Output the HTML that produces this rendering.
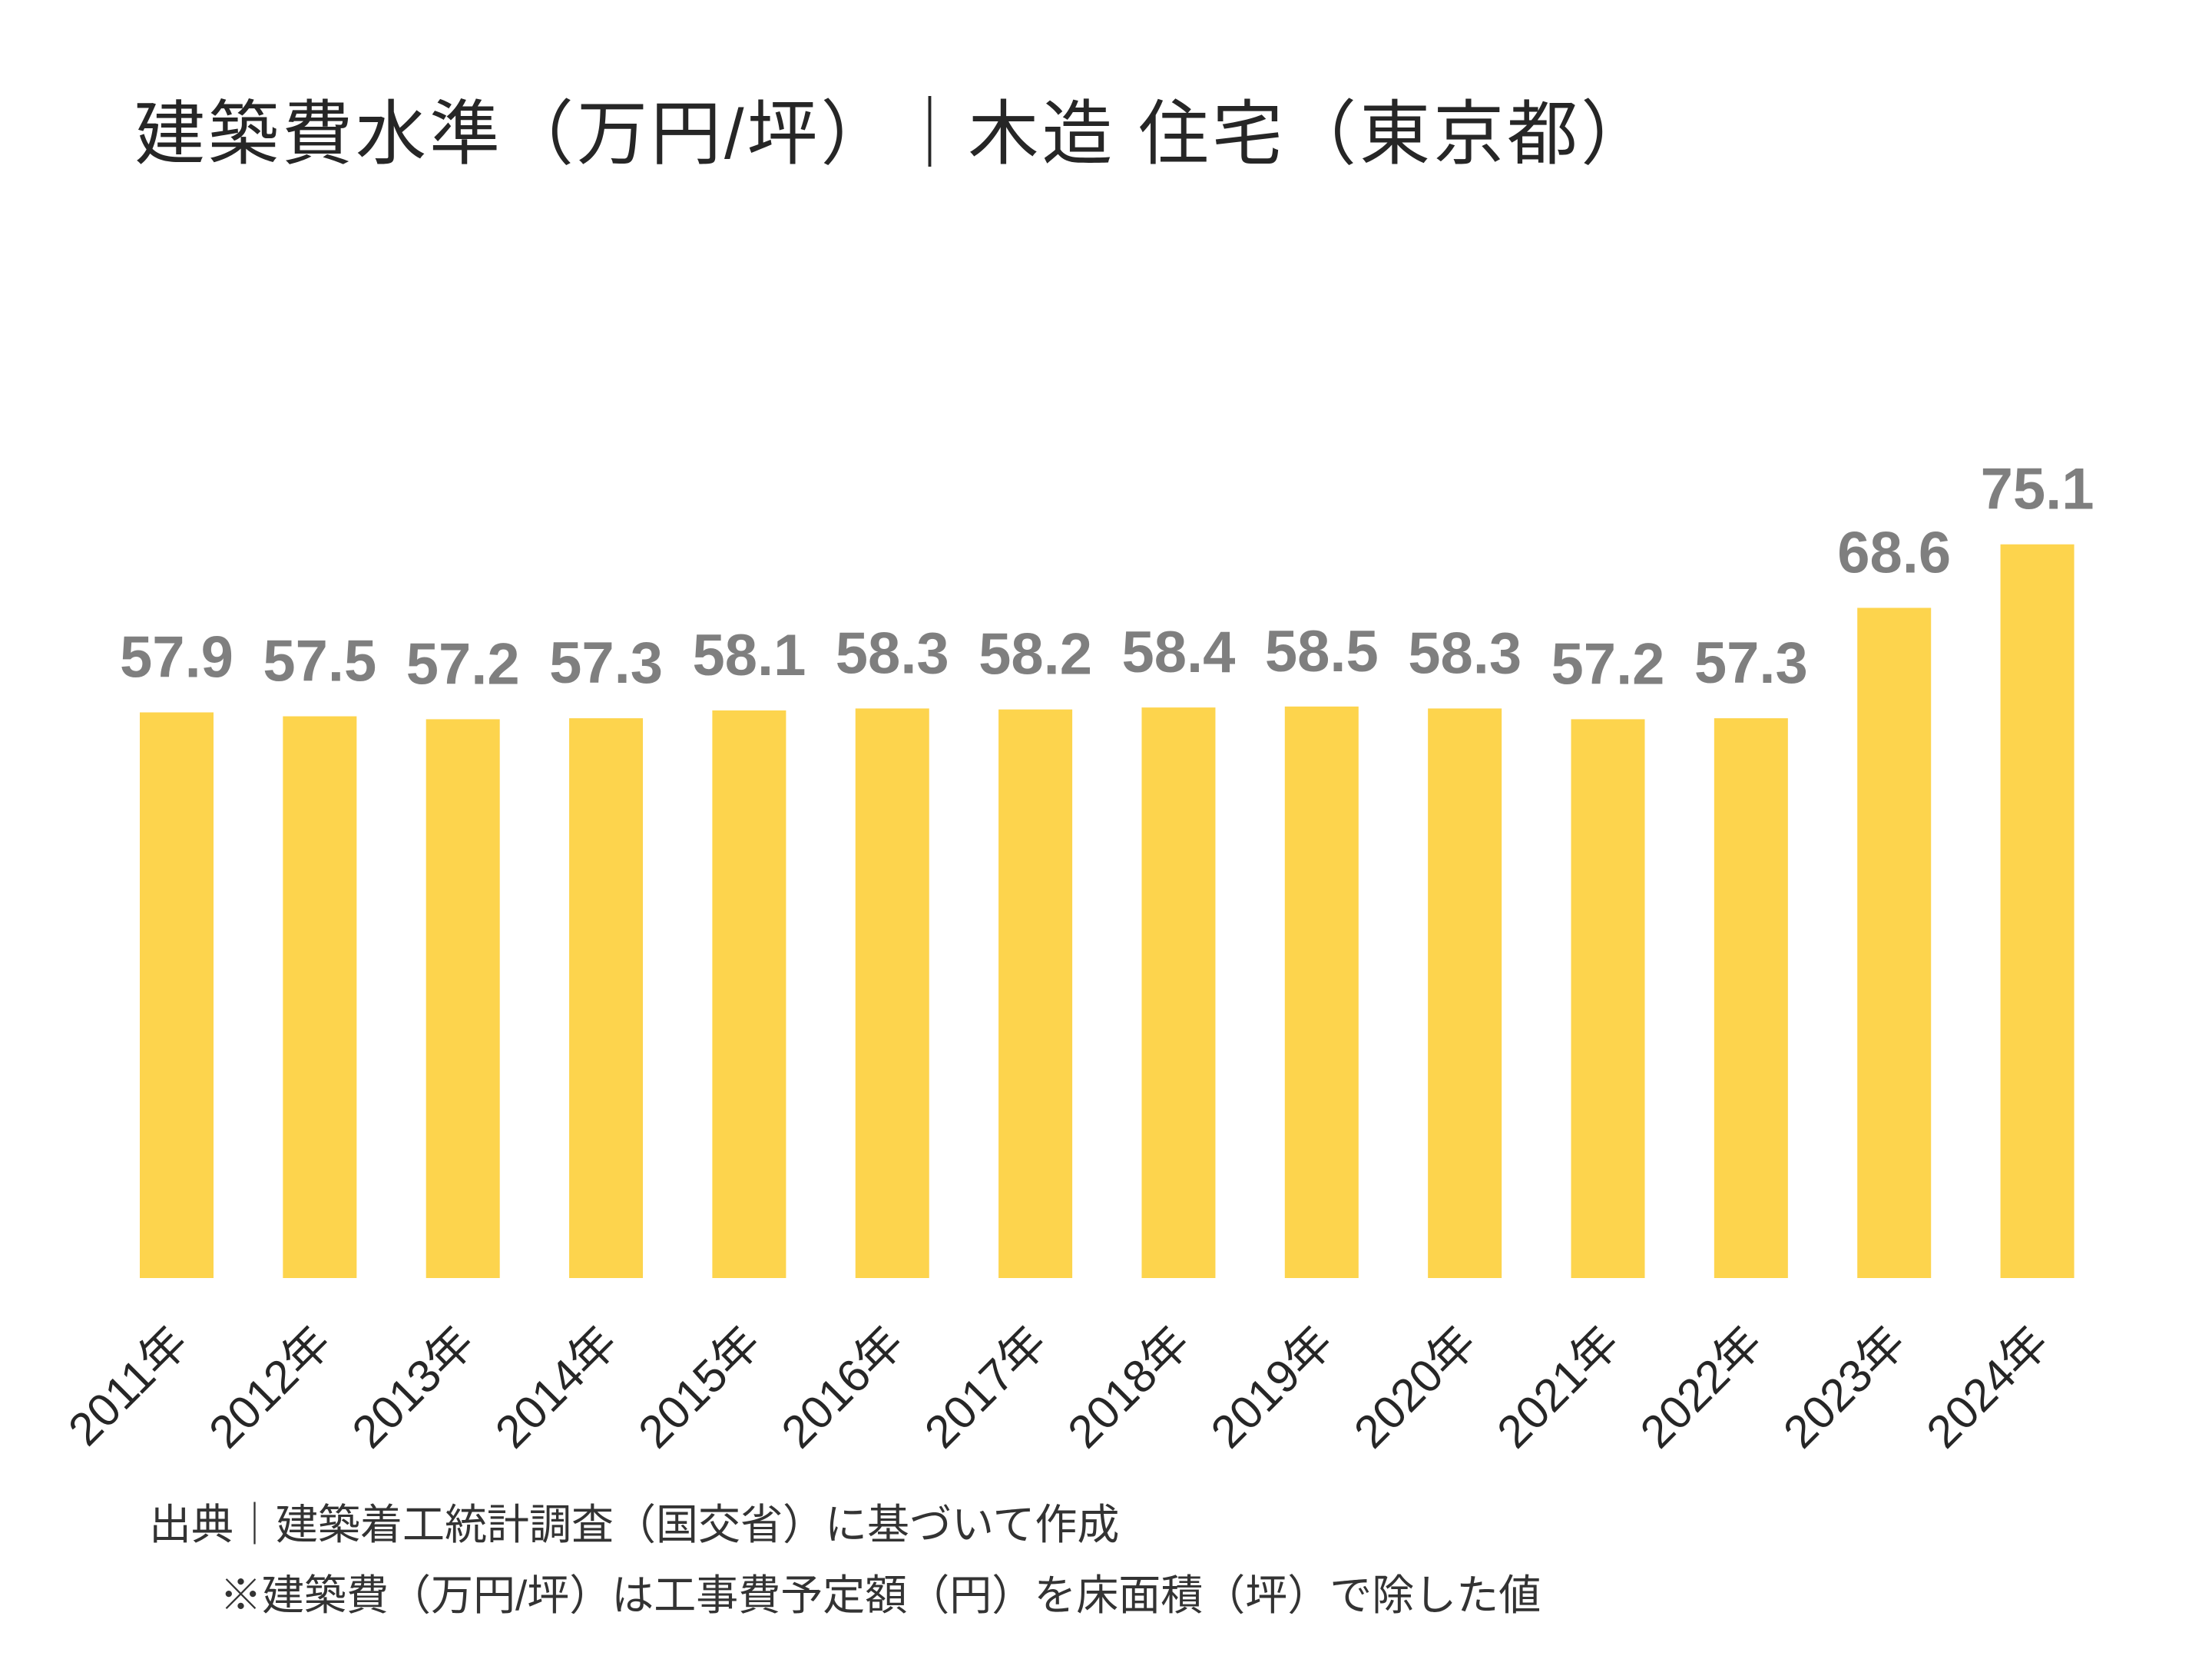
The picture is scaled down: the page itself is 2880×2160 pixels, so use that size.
<!DOCTYPE html>
<html><head><meta charset="utf-8"><style>
html,body{margin:0;padding:0;background:#fff}
body{width:2880px;height:2160px;position:relative;overflow:hidden;font-family:"Liberation Sans","Noto Sans CJK JP",sans-serif}
.t{position:absolute;white-space:nowrap}
</style></head><body>
<div class="t" style="left:175px;top:100px;font-size:92px;color:#262626;letter-spacing:4px">建築費水準（万円/坪）｜木造 住宅（東京都）</div>
<svg id="chart" width="2880" height="2160" style="position:absolute;left:0;top:0"></svg>
<div class="t" style="left:194px;top:1940px;font-size:55px;color:#333">出典｜建築着工統計調査（国交省）に基づいて作成</div>
<div class="t" style="left:286px;top:2032px;font-size:55px;color:#333">※建築費（万円/坪）は工事費予定額（円）を床面積（坪）で除した値</div>
<script>
const categories=["2011年","2012年","2013年","2014年","2015年","2016年","2017年","2018年","2019年","2020年","2021年","2022年","2023年","2024年"];
const values=[57.9,57.5,57.2,57.3,58.1,58.3,58.2,58.4,58.5,58.3,57.2,57.3,68.6,75.1];
const valueLabels=["57.9","57.5","57.2","57.3","58.1","58.3","58.2","58.4","58.5","58.3","57.2","57.3","68.6","75.1"];
const NS="http://www.w3.org/2000/svg";
const svg=document.getElementById('chart');
const x0=230,pitch=186.35,bw=96,base=1664,ppu=12.72;
function xs(i){return x0+i*pitch;}
function ys(v){return base-v*ppu;}
categories.forEach((c,i)=>{
  const r=document.createElementNS(NS,'rect');
  
  
  r.setAttribute('x',xs(i)-bw/2);r.setAttribute('y',ys(values[i]));
  r.setAttribute('width',bw);r.setAttribute('height',base-ys(values[i]));
  r.setAttribute('fill','#fdd44d');svg.appendChild(r);
  const t=document.createElementNS(NS,'text');
  
  
  t.setAttribute('x',xs(i));t.setAttribute('y',ys(values[i])-46);
  t.setAttribute('text-anchor','middle');t.setAttribute('font-size','76');
  t.setAttribute('font-weight','bold');t.setAttribute('fill','#7f7f7f');
  t.setAttribute('font-family','"Liberation Sans",sans-serif');
  t.textContent=valueLabels[i];svg.appendChild(t);
  const l=document.createElementNS(NS,'text');
  
  
  l.setAttribute('text-anchor','end');l.setAttribute('font-size','60');
  l.setAttribute('fill','#262626');
  l.setAttribute('font-family','"Liberation Sans","Noto Sans CJK JP",sans-serif');
  l.setAttribute('transform','translate('+(xs(i)+18)+',1752) rotate(-45)');
  l.textContent=c;svg.appendChild(l);
});
</script>
</body></html>
